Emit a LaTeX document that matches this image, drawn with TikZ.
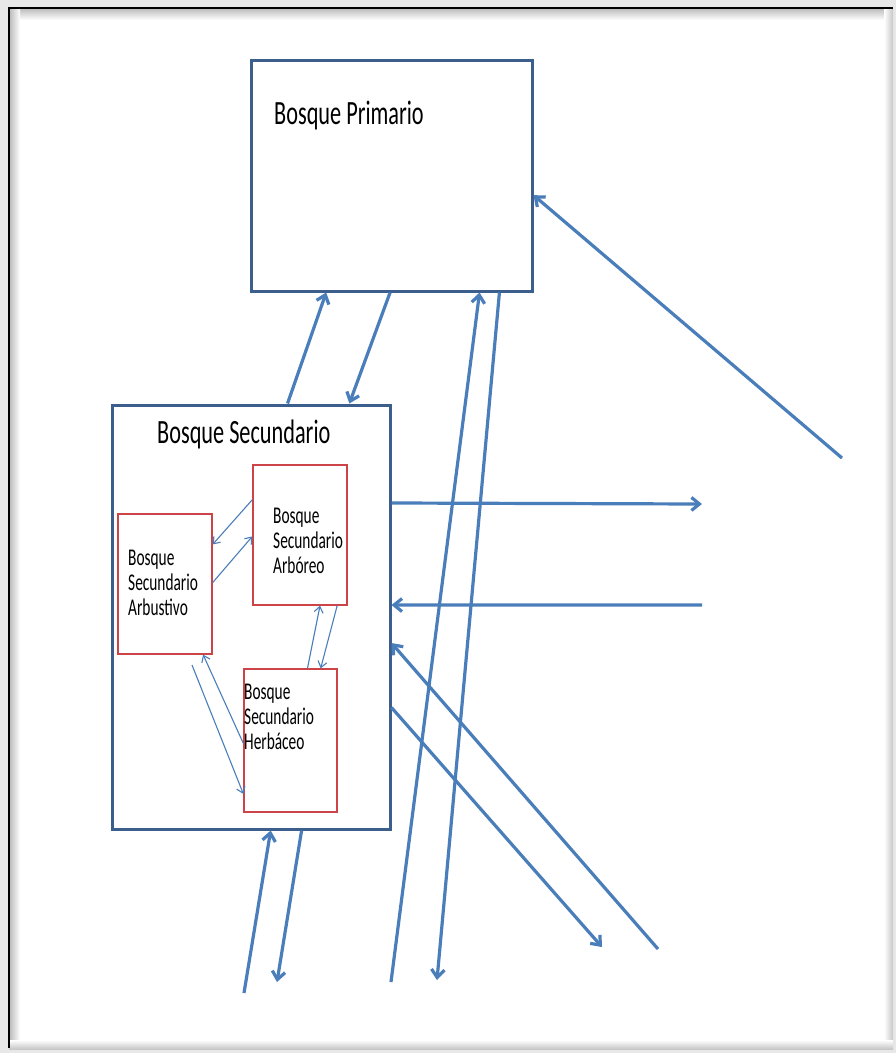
\documentclass[tikz,border=0pt]{standalone}
\usepackage{fontspec}
\usepackage{graphicx}
\setmainfont{Carlito}
\usetikzlibrary{arrows.meta,calc}

\definecolor{outl}{HTML}{3B5E8C}
\definecolor{arr}{HTML}{4A7EBB}
\definecolor{redl}{HTML}{CC4448}
\definecolor{paper}{HTML}{E8E8E8}

% narrow text as it is set in the drawing
\newcommand\bigtxt[1]{\scalebox{0.655}[1]{\fontsize{34}{40}\selectfont #1}}
\newcommand\smalltxt[1]{\scalebox{0.64}[1]{\fontsize{24}{25}\selectfont
  \begin{tabular}[t]{@{}l@{}}#1\end{tabular}}}

\tikzset{
  bluebox/.style={draw=outl, line width=3pt, fill=white, minimum width=#1, inner sep=0pt},
  redbox/.style={draw=redl, line width=1.3pt, fill=white, inner sep=0pt},
  txt/.style={anchor=base west, inner sep=0pt, text=black},
  flow/.style={draw=arr, line width=3.2pt, -{Straight Barb[length=8pt,width=13pt]}},
  thinflow/.style={draw=arr, line width=1.1pt, -{Straight Barb[length=6pt,width=9pt]}},
}

\begin{document}
\begin{tikzpicture}[x=1pt,y=-1pt]
\useasboundingbox (0,0) rectangle (896,1053);

% page frame
\fill[paper] (0,0) rectangle (896,1053);
\fill[white] (9,8) rectangle (891,1047);
\shade[top color=black!25, bottom color=white] (9,9) rectangle (891,20);
\shade[left color=black!25, right color=white] (10,9) rectangle (20,1047);
\shade[left color=white, right color=black!22] (884,9) rectangle (893,1048);
\shade[top color=white, bottom color=black!22] (9,1040) rectangle (893,1049);
\draw[black, line width=2.5pt] (9,1048) -- (9,8) -- (893,8);

% boxes
\node[bluebox=281pt, minimum height=231pt] (prim) at (391.5,175.5) {};
\node[bluebox=278pt, minimum height=424pt] (sec) at (251,617) {};
\node[redbox, minimum width=94pt, minimum height=140pt] (arbu) at (165,584) {};
\node[redbox, minimum width=94pt, minimum height=140pt] (arbo) at (300,535) {};
\node[redbox, minimum width=93pt, minimum height=143pt] (herb) at (290.5,740.5) {};

% labels
\node[txt] (tprim) at (274,124) {\bigtxt{Bosque Primario}};
\node[txt] (tsec) at (157,443) {\bigtxt{Bosque Secundario}};
\node[txt] (tarbu) at (128,565) {\smalltxt{Bosque\\Secundario\\Arbustivo}};
\node[txt] (tarbo) at (273,523) {\smalltxt{Bosque\\Secundario\\Arbóreo}};
\node[txt] (therb) at (244,699) {\smalltxt{Bosque\\Secundario\\Herbáceo}};

% free ends of the flows
\coordinate (b1) at (391,982);
\coordinate (b2) at (437,980);
\coordinate (b3) at (244,993);
\coordinate (b4) at (277,982);
\coordinate (r1) at (702,504);
\coordinate (r2) at (702,605);
\coordinate (d1) at (658,949);
\coordinate (d2) at (602,947);
\coordinate (ne) at (842,458);
\coordinate (s1) at (192,665);

% flows between primary and secondary forest
\draw[flow] ($(sec.north west)!0.63!(sec.north east)$) -- ($(prim.south west)!0.27!(prim.south east)$);
\draw[flow] ($(prim.south west)!0.495!(prim.south east)$) -- ($(sec.north west)!0.85!(sec.north east)$);
\draw[flow] (b1) -- ($(prim.south west)!0.81!(prim.south east)$);
\draw[flow] ($(prim.south west)!0.88!(prim.south east)$) -- (b2);
\draw[flow] (ne) -- ($(prim.north east)!0.584!(prim.south east)$);

% flows in and out of the secondary forest
\draw[flow] (b3) -- ($(sec.south west)!0.57!(sec.south east)$);
\draw[flow] ($(sec.south west)!0.68!(sec.south east)$) -- (b4);
\draw[flow] ($(sec.north east)!0.233!(sec.south east)$) -- (r1);
\draw[flow] (r2) -- ($(sec.north east)!0.472!(sec.south east)$);
\draw[flow] (d1) -- ($(sec.north east)!0.561!(sec.south east)$);
\draw[flow] ($(sec.north east)!0.712!(sec.south east)$) -- (d2);

% transitions between the successional stages
\draw[thinflow] ($(arbo.north west)!0.25!(arbo.south west)$) -- ($(arbu.north east)!0.22!(arbu.south east)$);
\draw[thinflow] ($(arbu.north east)!0.49!(arbu.south east)$) -- ($(arbo.north west)!0.51!(arbo.south west)$);
\draw[thinflow] ($(herb.north west)!0.68!(herb.north east)$) -- ($(arbo.south west)!0.71!(arbo.south east)$);
\draw[thinflow] ($(arbo.south west)!0.89!(arbo.south east)$) -- ($(herb.north west)!0.82!(herb.north east)$);
\draw[thinflow] (s1) -- ($(herb.north west)!0.87!(herb.south west)$);
\draw[thinflow] ($(herb.north west)!0.52!(herb.south west)$) -- ($(arbu.south west)!0.9!(arbu.south east)$);
\end{tikzpicture}
\end{document}
